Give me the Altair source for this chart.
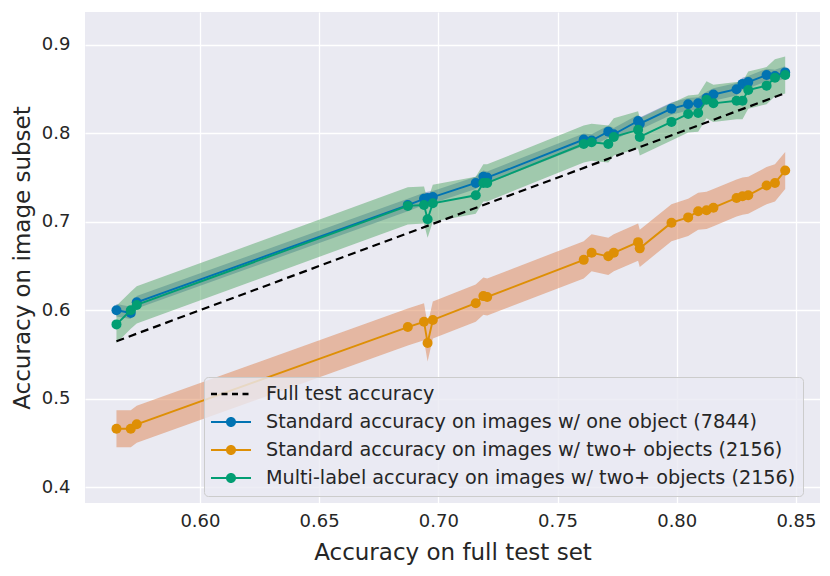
import altair as alt
import pandas as pd

# full-test accuracy of each model (shared x)
full_acc = [0.5650, 0.5710, 0.5735, 0.6872, 0.6940, 0.6955, 0.6977, 0.7157, 0.7189, 0.7205,
            0.7610, 0.7643, 0.7713, 0.7736, 0.7838, 0.7845, 0.7978, 0.8048, 0.8090, 0.8125,
            0.8154, 0.8251, 0.8276, 0.8300, 0.8377, 0.8412, 0.8455]
one_obj = [0.600, 0.597, 0.609, 0.719, 0.726, 0.727, 0.728, 0.744, 0.751, 0.750,
           0.793, 0.792, 0.802, 0.799, 0.814, 0.811, 0.828, 0.833, 0.834, 0.840,
           0.844, 0.850, 0.856, 0.858, 0.866, 0.865, 0.869]
two_std = [0.466, 0.466, 0.471, 0.581, 0.587, 0.563, 0.589, 0.608, 0.616, 0.615,
           0.657, 0.665, 0.661, 0.665, 0.677, 0.670, 0.699, 0.705, 0.712, 0.713,
           0.716, 0.727, 0.729, 0.730, 0.741, 0.744, 0.758]
two_ml = [0.584, 0.600, 0.606, 0.718, 0.719, 0.703, 0.721, 0.730, 0.744, 0.744,
          0.788, 0.790, 0.788, 0.796, 0.804, 0.796, 0.813, 0.822, 0.823, 0.838,
          0.834, 0.837, 0.837, 0.849, 0.854, 0.863, 0.866]

labels = ["Full test accuracy",
          "Standard accuracy on images w/ one object (7844)",
          "Standard accuracy on images w/ two+ objects (2156)",
          "Multi-label accuracy on images w/ two+ objects (2156)"]
line_colors = ["#000000", "#0173b2", "#de8f05", "#029e73"]
band_colors = ["#4c72b0", "#dd8452", "#55a868"]
band_half = [0.007, 0.021, 0.021]

rows = []
for i, vals in enumerate([one_obj, two_std, two_ml]):
    for xv, yv in zip(full_acc, vals):
        rows.append(dict(series=labels[i + 1], x=xv, y=yv,
                         lo=yv - band_half[i], hi=yv + band_half[i]))
df = pd.DataFrame(rows)
diag = pd.DataFrame({"x": [full_acc[0], full_acc[-1]],
                     "y": [full_acc[0], full_acc[-1]],
                     "series": [labels[0], labels[0]]})

xscale = alt.Scale(domain=[0.5518, 0.8601], nice=False, zero=False)
yscale = alt.Scale(domain=[0.382, 0.9373], nice=False, zero=False)

X = alt.X("x:Q", scale=xscale,
          axis=alt.Axis(title="Accuracy on full test set", values=[0.60, 0.65, 0.70, 0.75, 0.80, 0.85],
                        format=".2f", labelPadding=9, titlePadding=11))
Y = alt.Y("y:Q", scale=yscale,
          axis=alt.Axis(title="Accuracy on image subset", values=[0.4, 0.5, 0.6, 0.7, 0.8, 0.9],
                        format=".1f", labelPadding=15, titlePadding=7))
Xp = alt.X("x:Q", scale=xscale)
Yp = alt.Y("y:Q", scale=yscale)

layers = []
# confidence bands
for i in range(3):
    layers.append(
        alt.Chart(df).transform_filter(alt.datum.series == labels[i + 1])
        .mark_area(color=band_colors[i], opacity=0.5)
        .encode(x=Xp, y=alt.Y("lo:Q", scale=yscale), y2="hi:Q")
    )
# diagonal reference line
layers.append(
    alt.Chart(diag).mark_line(color="black", strokeDash=[8, 5], strokeWidth=2.2).encode(x=X, y=Y)
)
# series lines and markers
for i in range(3):
    base = alt.Chart(df).transform_filter(alt.datum.series == labels[i + 1])
    layers.append(base.mark_line(color=line_colors[i + 1], strokeWidth=1.9).encode(x=Xp, y=Yp))
    layers.append(base.mark_circle(color=line_colors[i + 1], size=100, opacity=1).encode(x=Xp, y=Yp))

# legend symbols (unit = 10 px; drawn from -1..3 so they span 40 px to the right of the slot)
line_sym = ("M-1,-0.1 L3,-0.1 L3,0.1 L-1,0.1 Z "
            "M0.5,0 A0.5,0.5 0 1,1 1.5,0 A0.5,0.5 0 1,1 0.5,0 Z")
dash_sym = ("M-1,-0.12 L-0.4,-0.12 L-0.4,0.12 L-1,0.12 Z "
            "M0.05,-0.12 L0.65,-0.12 L0.65,0.12 L0.05,0.12 Z "
            "M1.1,-0.12 L1.7,-0.12 L1.7,0.12 L1.1,0.12 Z "
            "M2.15,-0.12 L2.75,-0.12 L2.75,0.12 L2.15,0.12 Z")
leg = alt.Legend(title=None, orient="none", legendX=119, legendY=365,
                 labelFontSize=19.2, labelFont="DejaVu Sans", labelColor="#262626",
                 symbolSize=400, labelOffset=35, labelLimit=0,
                 fillColor="rgba(234,234,242,0.8)", strokeColor="#cccccc",
                 cornerRadius=4, padding=7, rowPadding=7,
                 symbolStrokeWidth=0, symbolOpacity=1)
layers.append(
    alt.Chart(df).transform_filter("false").mark_point(filled=True, opacity=1).encode(
        x=Xp, y=Yp,
        color=alt.Color("series:N", scale=alt.Scale(domain=labels, range=line_colors), legend=leg),
        shape=alt.Shape("series:N", scale=alt.Scale(domain=labels, range=[dash_sym, line_sym, line_sym, line_sym]),
                        legend=leg),
    )
)

chart = alt.layer(*layers).properties(
    width=735, height=491,
    autosize=alt.AutoSizeParams(type="none"),
    padding={"left": 77, "top": 4, "right": 2, "bottom": 70},
    background="white",
).configure_view(
    fill="#eaeaf2", stroke=None
).configure_axis(
    grid=True, gridColor="white", gridWidth=1.3, domain=False, ticks=False,
    labelFont="DejaVu Sans", labelFontSize=18, labelColor="#262626",
    titleFont="DejaVu Sans", titleFontSize=23, titleFontWeight="normal", titleColor="#262626",
)

chart.save("out.html", embed_options={"renderer": "svg", "actions": False})
